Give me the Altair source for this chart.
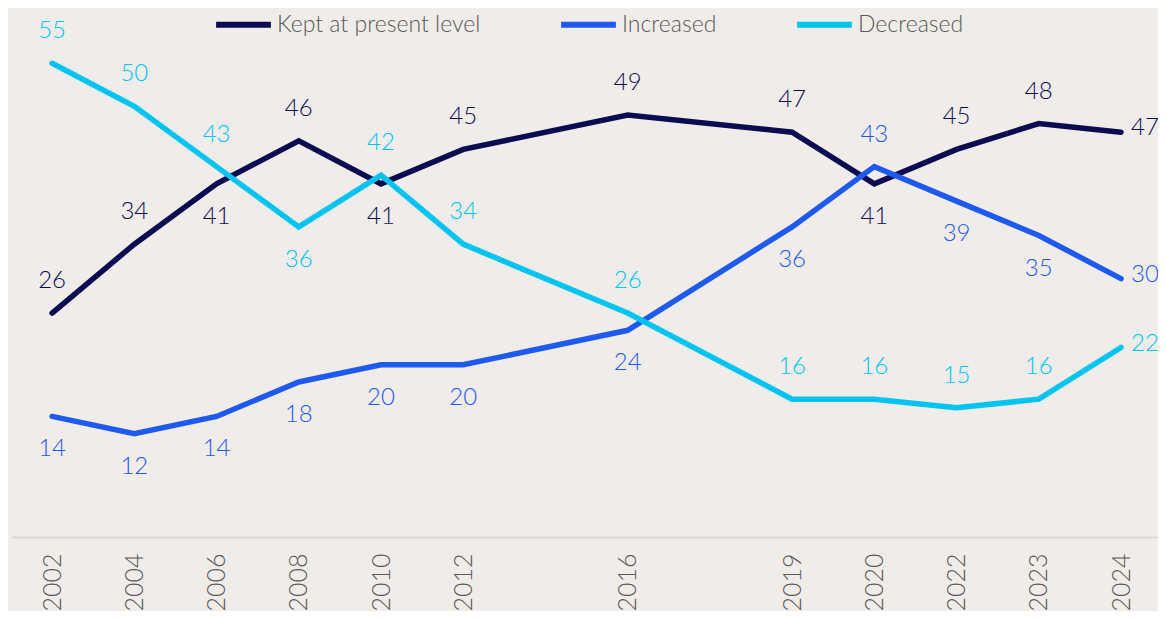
import altair as alt
import pandas as pd

years = ["2002", "2004", "2006", "2008", "2010", "2012", "2016", "2019", "2020", "2022", "2023", "2024"]
slots = [0, 1, 2, 3, 4, 5, 7, 9, 10, 11, 12, 13]
kept = [26, 34, 41, 46, 41, 45, 49, 47, 41, 45, 48, 47]
increased = [14, 12, 14, 18, 20, 20, 24, 36, 43, 39, 35, 30]
decreased = [55, 50, 43, 36, 42, 34, 26, 16, 16, 15, 16, 22]
series_names = ["Kept at present level", "Increased", "Decreased"]
colors = ["#0b0b52", "#1f5af0", "#00c4f0"]

# label placement per point: a = above, b = below, r = right
kept_side = ["a", "a", "b", "a", "b", "a", "a", "a", "b", "a", "a", "r"]
inc_side = ["b", "b", "b", "b", "b", "b", "b", "b", "a", "b", "b", "r"]
dec_side = ["a", "a", "a", "b", "a", "a", "a", "a", "a", "a", "a", "r"]

rows = []
for name, vals, sides in zip(series_names, [kept, increased, decreased], [kept_side, inc_side, dec_side]):
    for y, s, v, side in zip(years, slots, vals, sides):
        rows.append({"year": y, "slot": s, "series": name, "value": v, "side": side})
df = pd.DataFrame(rows)

label_arr = [""] * 14
for y, s in zip(years, slots):
    label_arr[s] = y
label_expr = "[" + ",".join("'" + l + "'" for l in label_arr) + "][datum.value]"

FONT = "Lato"
WEIGHT = 300

x = alt.X("slot:Q",
          scale=alt.Scale(domain=[-0.5, 13.45], nice=False, zero=False),
          axis=alt.Axis(values=slots, labelExpr=label_expr, title=None, grid=False,
                        ticks=False, labelAngle=270, labelAlign="right", labelBaseline="middle",
                        labelPadding=16, labelFontSize=25, labelColor="#595959", labelFont=FONT,
                        labelFontWeight=WEIGHT,
                        domainColor="#d9d9d9", domainWidth=2, labelOverlap=False))
y = alt.Y("value:Q", scale=alt.Scale(domain=[0, 58.4], nice=False), axis=None)
color = alt.Color("series:N", scale=alt.Scale(domain=series_names, range=colors),
                  legend=alt.Legend(title=None, orient="none", direction="horizontal",
                                    legendX=202, legendY=-40, symbolType="stroke",
                                    symbolStrokeWidth=6, symbolSize=3000, labelFontSize=23,
                                    labelFont=FONT, labelFontWeight=WEIGHT, labelColor="#595959",
                                    columnPadding=68, labelOffset=3, labelLimit=0))

base = alt.Chart(df)
lines = base.mark_line(strokeWidth=5.5, strokeCap="round", strokeJoin="miter").encode(
    x=x, y=y, color=color, detail="series:N")

def txt(side, **kw):
    return base.transform_filter(alt.datum.side == side).mark_text(
        font=FONT, fontSize=24, fontWeight=WEIGHT, baseline="middle", **kw).encode(
        x=x, y=y, text="value:Q",
        color=alt.Color("series:N", scale=alt.Scale(domain=series_names, range=colors), legend=None))

above = txt("a", dy=-32, align="center")
below = txt("b", dy=33, align="center")
right = txt("r", dx=10, dy=-4, align="left")

chart = alt.layer(lines, above, below, right).properties(
    width=1147, height=503, background="#efece9",
    autosize=alt.AutoSizeParams(type="none"),
    padding={"left": 3, "top": 26, "right": 0, "bottom": 74}
).configure_view(stroke=None)

chart.save("out.html", embed_options={"renderer": "svg", "actions": False})
